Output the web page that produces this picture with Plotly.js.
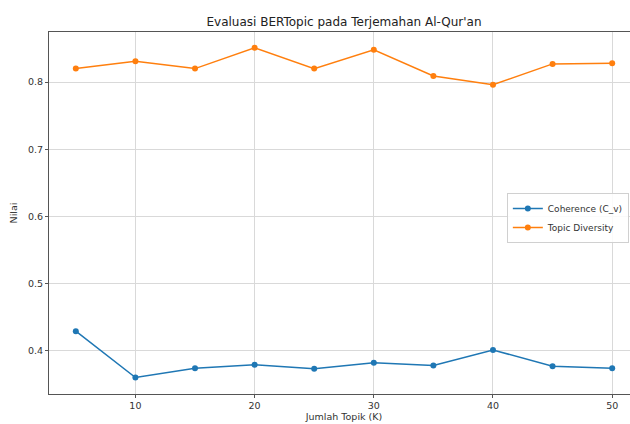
<!DOCTYPE html>
<html>
<head>
<meta charset="utf-8">
<script src="https://cdn.plot.ly/plotly-3.0.1.min.js"></script>
<style>html,body{margin:0;padding:0;background:#fff;overflow:hidden;}#chart{width:640px;height:424px;}</style>
</head>
<body>
<div id="chart"></div>
<script>
const jumlahTopik = [5, 10, 15, 20, 25, 30, 35, 40, 45, 50];
const coherence = [0.429, 0.360, 0.374, 0.379, 0.373, 0.382, 0.378, 0.401, 0.377, 0.374];
const diversity = [0.820, 0.831, 0.820, 0.851, 0.820, 0.848, 0.809, 0.796, 0.827, 0.828];
const xTicks = [10, 20, 30, 40, 50];
const yTicks = [0.4, 0.5, 0.6, 0.7, 0.8];
const yTickLabels = ["0.4", "0.5", "0.6", "0.7", "0.8"];

const fam = "DejaVu Sans, sans-serif";
const font = {family: fam, size: 9.5, color: "#333"};
const traces = [
  {x: jumlahTopik, y: coherence, name: "Coherence (C_v)", mode: "lines+markers",
   line: {color: "#1f77b4", width: 1.5}, marker: {color: "#1f77b4", size: 6}},
  {x: jumlahTopik, y: diversity, name: "Topic Diversity", mode: "lines+markers",
   line: {color: "#ff7f0e", width: 1.5}, marker: {color: "#ff7f0e", size: 6}}
];
const axisCommon = {showline: true, linecolor: "#555", linewidth: 1, mirror: true,
  ticks: "outside", ticklen: 3, tickcolor: "#555", showgrid: true, gridcolor: "#d9d9d9",
  gridwidth: 1, zeroline: false, tickfont: font, automargin: false};
const layout = {
  width: 640, height: 424,
  margin: {l: 49, r: 1, t: 32, b: 30, autoexpand: false},
  paper_bgcolor: "#fff", plot_bgcolor: "#fff",
  font: font,
  title: {text: "Evaluasi BERTopic pada Terjemahan Al-Qur'an", xref: "paper", x: 0.5, xanchor: "center",
          yref: "container", y: 1 - 21.5 / 424, yanchor: "middle", font: {family: fam, size: 12, color: "#222"}},
  xaxis: Object.assign({}, axisCommon, {range: [2.75, 52.25], tickvals: xTicks,
    title: {text: "Jumlah Topik (K)", standoff: 1, font: {family: fam, size: 9.5, color: "#333"}}}),
  yaxis: Object.assign({}, axisCommon, {range: [0.3355, 0.8745], tickvals: yTicks, ticktext: yTickLabels,
    title: {text: "Nilai", standoff: 8, font: {family: fam, size: 9.5, color: "#333"}}}),
  legend: {x: 0.776, xanchor: "left", y: 0.555, yanchor: "top", bgcolor: "rgba(255,255,255,0.85)",
    bordercolor: "#d0d0d0", borderwidth: 1, font: {family: fam, size: 9, color: "#333"},
    tracegroupgap: 0, itemwidth: 30},
  showlegend: true
};
Plotly.newPlot("chart", traces, layout, {displayModeBar: false, staticPlot: true});
</script>
</body>
</html>
